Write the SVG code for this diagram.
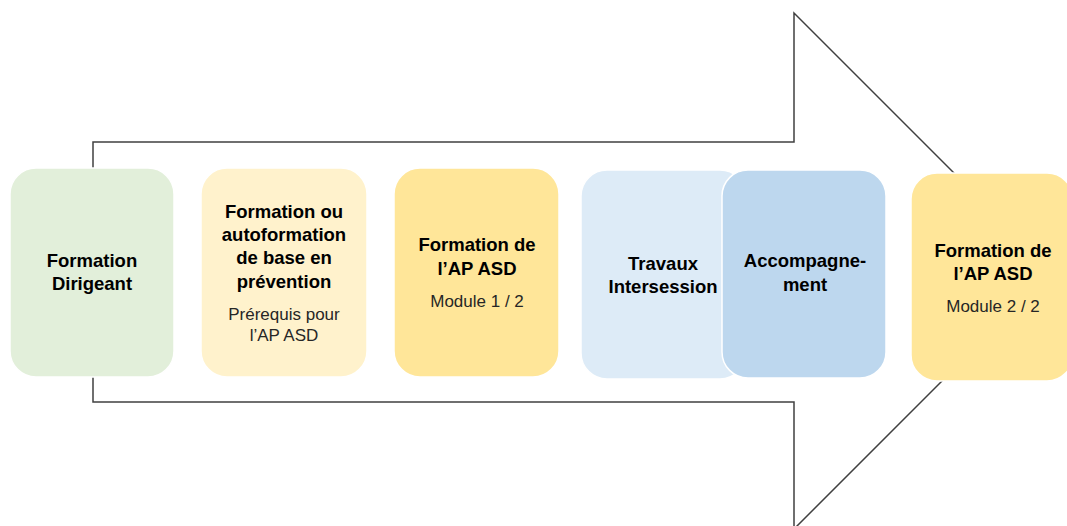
<svg xmlns="http://www.w3.org/2000/svg" width="1067" height="526" viewBox="0 0 1067 526">
<style>
.box{stroke:#ffffff;stroke-width:1.5}
.b{font-family:"Liberation Sans",Arial,sans-serif;font-weight:bold;font-size:18.5px;fill:#000;text-anchor:middle}
.r{font-family:"Liberation Sans",Arial,sans-serif;font-size:17px;fill:#262626;text-anchor:middle}
.arrow{fill:#ffffff;stroke:#404040;stroke-width:1.5;stroke-linejoin:miter}
</style>
<rect width="1067" height="526" fill="#ffffff"/>
<g id="connectors">
<path class="arrow" d="M93,142 L794,142 L794,13 L1052,271 L794,529 L794,402 L93,402 Z"/>
</g>
<g id="node1">
<rect class="box" x="10" y="168" width="164" height="209" rx="26" fill="#E2EFDA"/>
<text class="b" x="92" y="267">Formation</text>
<text class="b" x="92" y="290">Dirigeant</text>
</g>
<g id="node2">
<rect class="box" x="201" y="168" width="166" height="209" rx="26" fill="#FFF2CC"/>
<text class="b" x="284" y="218">Formation ou</text>
<text class="b" x="284" y="241">autoformation</text>
<text class="b" x="284" y="264">de base en</text>
<text class="b" x="284" y="288">prévention</text>
<text class="r" x="284" y="320">Prérequis pour</text>
<text class="r" x="284" y="341">l’AP ASD</text>
</g>
<g id="node3">
<rect class="box" x="394" y="168" width="165" height="209" rx="26" fill="#FFE699"/>
<text class="b" x="477" y="251">Formation de</text>
<text class="b" x="477" y="275">l’AP ASD</text>
<text class="r" x="477" y="307">Module 1 / 2</text>
</g>
<g id="node4">
<rect class="box" x="581" y="170" width="165" height="209" rx="26" fill="#DDEBF7"/>
<text class="b" x="663" y="270">Travaux</text>
<text class="b" x="663" y="293">Intersession</text>
</g>
<g id="node5">
<rect class="box" x="722" y="170" width="164" height="208" rx="26" fill="#BDD7EE"/>
<text class="b" x="805" y="267">Accompagne-</text>
<text class="b" x="805" y="291">ment</text>
</g>
<g id="node6">
<rect class="box" x="911" y="173" width="162" height="208" rx="26" fill="#FFE699"/>
<text class="b" x="993" y="257">Formation de</text>
<text class="b" x="993" y="280">l’AP ASD</text>
<text class="r" x="993" y="312">Module 2 / 2</text>
</g>
</svg>
